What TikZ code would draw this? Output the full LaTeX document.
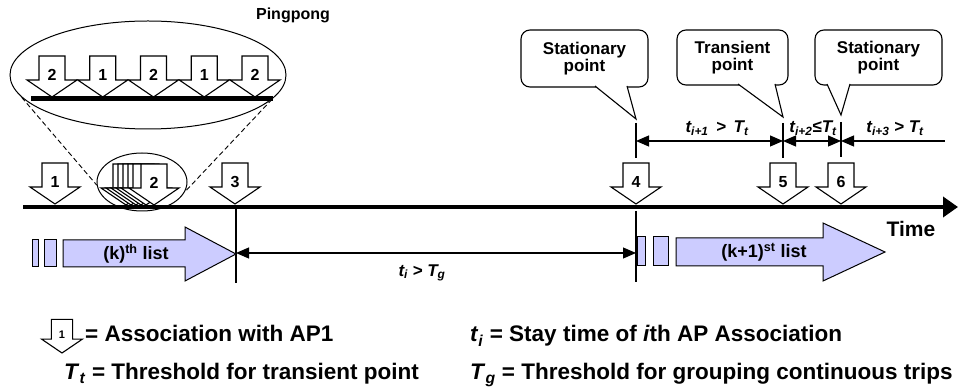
\documentclass[tikz,border=0pt]{standalone}
\usepackage{fontspec}
\setmainfont{Liberation Sans}
\usetikzlibrary{arrows.meta,shapes.geometric}
\definecolor{listfill}{RGB}{204,204,255}
\newcommand\fsz[1]{\fontsize{#1}{#1}\selectfont}
\newcommand\tvar[1]{\textit{t}\textsubscript{\textit{#1}}}
\newcommand\Tvar[1]{\textit{T}\textsubscript{\textit{#1}}}
\tikzset{
  apshape/.style={draw=black, fill=white, line width=1.1pt, line join=miter},
  numlbl/.style={font=\fsz{16}\bfseries, inner sep=0pt},
  pics/aparrow/.style={code={
    \draw[apshape] (-13,-41) -- (13,-41) -- (13,-17) -- (25,-17) -- (0,0) -- (-25,-17) -- (-13,-17) -- cycle;
    \node[numlbl] (-lbl) at (0,-22) {#1};
  }},
  tick/.style={line width=1.1pt},
  dim/.style={line width=1.1pt},
  tipa/.tip={Triangle[length=13pt,width=11pt]},
  dimlbl/.style={font=\fsz{17}\bfseries\itshape, inner sep=0pt},
  callbox/.style={draw, fill=white, rounded corners=9pt, line width=1.1pt, align=center, font=\fsz{17}\bfseries, inner sep=0pt},
  pointer/.style={line width=1.1pt, line join=miter},
  listarrow/.style={draw, fill=listfill, line width=1pt, line join=miter},
  listlbl/.style={font=\fsz{18}\bfseries, inner sep=0pt},
  legend/.style={font=\fsz{22.5}\bfseries, inner sep=0pt},
  zoomell/.style={ellipse, draw, line width=1pt, inner sep=0pt},
  zoomline/.style={dash pattern=on 5pt off 3pt, line width=0.9pt},
}
\begin{document}
\begin{tikzpicture}[x=1pt,y=-1pt]
\useasboundingbox (0,0) rectangle (959,387);

% ---- Pingpong zoom ellipse ----
\node[zoomell, minimum width=276pt, minimum height=108pt] (pp) at (148,75) {};
\node[font=\fsz{16}\bfseries, inner sep=0pt] (pplbl) at (293,15) {Pingpong};
\draw[line width=5pt] (31,99) -- (273,99);
\pic (q1) at (52,97) {aparrow=2};
\pic (q2) at (102.75,97) {aparrow=1};
\pic (q3) at (153.5,97) {aparrow=2};
\pic (q4) at (204.25,97) {aparrow=1};
\pic (q5) at (255,97) {aparrow=2};

% ---- Timeline ----
\coordinate (tl0) at (23,207);
\coordinate (tl1) at (958,207);
\draw[line width=4pt, -{Triangle[length=15pt,width=20pt]}] (tl0) -- (tl1);
\node[font=\fsz{21}\bfseries, inner sep=0pt] (time) at (911,229) {Time};

\pic (a1) at (55,204) {aparrow=1};
\pic (s1) at (126,205) {aparrow={}};
\pic (s2) at (131,205) {aparrow={}};
\pic (s3) at (136,205) {aparrow={}};
\pic (s4) at (141,205) {aparrow={}};
\pic (s5) at (146,205) {aparrow={}};
\pic (a2) at (154,205) {aparrow=2};
\pic (a3) at (235,204) {aparrow=3};
\pic (a4) at (636,204) {aparrow=4};
\pic (a5) at (783,204) {aparrow=5};
\pic (a6) at (841,204) {aparrow=6};

\node[zoomell, minimum width=90pt, minimum height=58pt] (sm) at (142,182) {};
\draw[zoomline] (pp.190) -- (sm.184);
\draw[zoomline] (pp.-11) -- (sm.-13);

% ---- ticks ----
\coordinate (u4a) at (636,123); \coordinate (u4b) at (636,158);
\coordinate (u5a) at (783,123); \coordinate (u5b) at (783,158);
\coordinate (u6a) at (841,122); \coordinate (u6b) at (841,157);
\coordinate (l3a) at (236,209); \coordinate (l3b) at (236,283);
\coordinate (l4a) at (636,211); \coordinate (l4b) at (636,282);
\draw[tick] (u4a) -- (u4b);
\draw[tick] (u5a) -- (u5b);
\draw[tick] (u6a) -- (u6b);
\draw[tick] (l3a) -- (l3b);
\draw[tick] (l4a) -- (l4b);

% ---- dimension arrows ----
\coordinate (d4) at (636,141);
\coordinate (d5) at (783,141);
\coordinate (d6) at (841,141);
\coordinate (dend) at (945,141);
\draw[dim, tipa-tipa] (d4) -- (d5);
\draw[dim, tipa-tipa] (d5) -- (d6);
\draw[dim, tipa-] (d6) -- (dend);
\node[dimlbl] (t1) at (717,128) {\tvar{i+1} \,>\, \Tvar{t}};
\node[dimlbl] (t2) at (813,128) {\tvar{i+2}≤\Tvar{t}};
\node[dimlbl] (t3) at (895,128) {\tvar{i+3} > \Tvar{t}};
\coordinate (e3) at (236,253);
\coordinate (e4) at (636,253);
\draw[dim, tipa-tipa] (e3) -- (e4);
\node[dimlbl] (tg) at (422,273) {\tvar{i} > \Tvar{g}};

% ---- callouts ----
\node[callbox, minimum width=127pt, minimum height=57pt] (c1) at (584.5,58.5) {Stationary\\point};
\coordinate (c1a) at (595,86); \coordinate (c1b) at (627,86); \coordinate (c1t) at (636,119);
\fill[white] (c1a) -- (c1t) -- (c1b) -- cycle;
\draw[pointer] (c1a) -- (c1t) -- (c1b);

\node[callbox, minimum width=111pt, minimum height=55pt] (c2) at (732.5,57.5) {Transient\\point};
\coordinate (c2a) at (738,84); \coordinate (c2b) at (775,84); \coordinate (c2t) at (783,117);
\fill[white] (c2a) -- (c2t) -- (c2b) -- cycle;
\draw[pointer] (c2a) -- (c2t) -- (c2b);

\node[callbox, minimum width=127pt, minimum height=55pt] (c3) at (878.5,57.5) {Stationary\\point};
\coordinate (c3a) at (827,84); \coordinate (c3b) at (850,84); \coordinate (c3t) at (841,115);
\fill[white] (c3a) -- (c3t) -- (c3b) -- cycle;
\draw[pointer] (c3a) -- (c3t) -- (c3b);

% ---- list arrows ----
\draw[listarrow] (32,240) rectangle (38,267);
\draw[listarrow] (44,240) rectangle (56,267);
\draw[listarrow] (63,240) -- (185,240) -- (185,227) -- (236,254) -- (185,281) -- (185,267) -- (63,267) -- cycle;
\node[listlbl] (klist) at (136,254) {(k)\textsuperscript{th} list};

\draw[listarrow] (637,237) rectangle (645,266);
\draw[listarrow] (653,237) rectangle (668,266);
\draw[listarrow] (676,238) -- (823,238) -- (823,223) -- (885,252) -- (823,281) -- (823,266) -- (676,266) -- cycle;
\node[listlbl] (k1list) at (764,252) {(k+1)\textsuperscript{st} list};

% ---- legend ----
\pic[scale=0.82] (lg) at (62,353) {aparrow={\fsz{11}1}};
\node[legend, anchor=base west] (lg1) at (85,342) {= Association with AP1};
\node[legend, anchor=base west] (lg2) at (470,342) {\tvar{i} = Stay time of \textit{i}th AP Association};
\node[legend, anchor=base west] (lg3) at (64,380) {\Tvar{t} = Threshold for transient point};
\node[legend, anchor=base west] (lg4) at (470,380) {\Tvar{g} = Threshold for grouping continuous trips};
\end{tikzpicture}
\end{document}
